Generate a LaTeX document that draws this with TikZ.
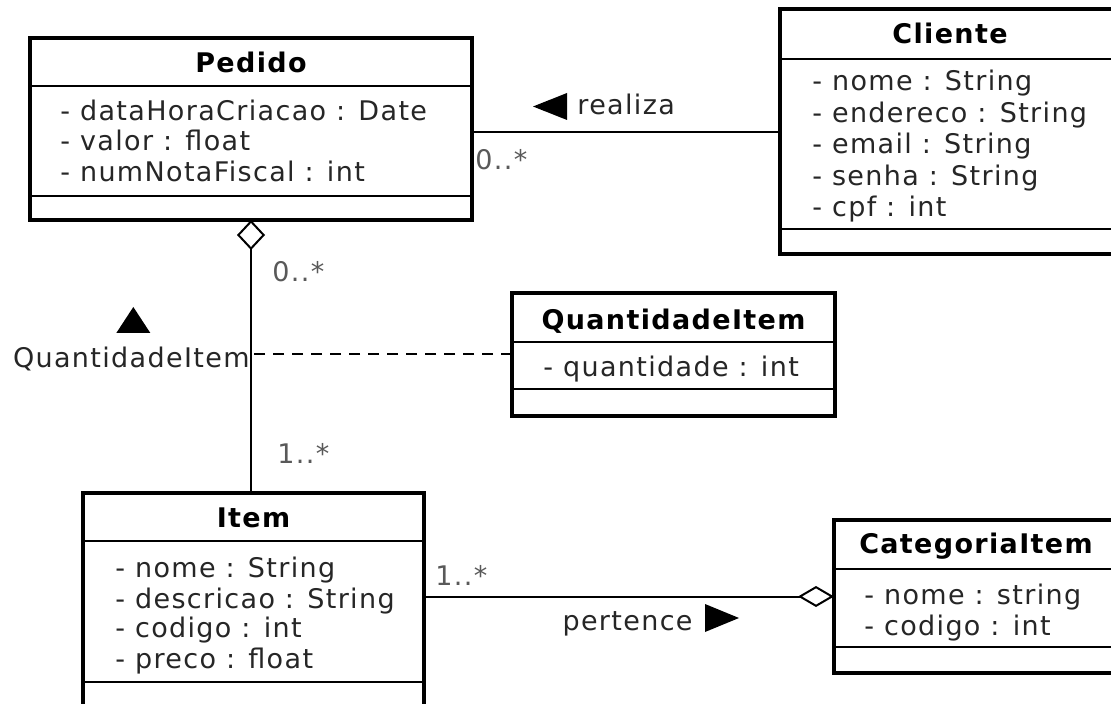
\documentclass[tikz,border=0pt]{standalone}
\usepackage{fontspec}
\setmainfont{DejaVu Sans}[LetterSpace=5]
\usetikzlibrary{arrows.meta}

\begin{document}
\begin{tikzpicture}[
    x=0.5pt, y=-0.5pt,
    every node/.style={font=\fontsize{13.5}{16}\selectfont, inner sep=0pt},
    umlbox/.style={rectangle, draw, line width=2.2pt, outer sep=0pt, anchor=north west},
    umltitle/.style={anchor=base, font=\fontsize{13.5}{16}\selectfont\bfseries},
    umlattr/.style={anchor=base west, text=black!85},
    mult/.style={anchor=base west, text=black!65},
    rolename/.style={text=black!85},
    sep/.style={line width=1pt},
    link/.style={line width=1pt},
    marker/.style={fill=black}
]
    \useasboundingbox (0,0) rectangle (1111,704);
    \clip (0,0) rectangle (1111,704);
    \fill[white] (0,0) rectangle (1111,704);

    % Pedido
    \node[umlbox, minimum width=221pt, minimum height=91pt] (pedido) at (30,38) {};
    \draw[sep] ([yshift=-24pt]pedido.north west) -- ([yshift=-24pt]pedido.north east);
    \draw[sep] ([yshift=-79pt]pedido.north west) -- ([yshift=-79pt]pedido.north east);
    \node[umltitle] (pedidotitle) at (251,73) {Pedido};
    \node[umlattr] (pedidodata) at (60,121) {- dataHoraCriacao : Date};
    \node[umlattr] (pedidovalor) at (60,151) {- valor : float};
    \node[umlattr] (pedidonota) at (60,182) {- numNotaFiscal : int};

    % Cliente
    \node[umlbox, minimum width=170pt, minimum height=122.5pt] (cliente) at (780,9) {};
    \draw[sep] ([yshift=-25pt]cliente.north west) -- ([yshift=-25pt]cliente.north east);
    \draw[sep] ([yshift=-110pt]cliente.north west) -- ([yshift=-110pt]cliente.north east);
    \node[umltitle] (clientetitle) at (950,44) {Cliente};
    \node[umlattr] (clientenome) at (812,91) {- nome : String};
    \node[umlattr] (clienteend) at (812,122.5) {- endereco : String};
    \node[umlattr] (clienteemail) at (812,154) {- email : String};
    \node[umlattr] (clientesenha) at (812,185.5) {- senha : String};
    \node[umlattr] (clientecpf) at (812,217) {- cpf : int};

    % QuantidadeItem
    \node[umlbox, minimum width=161.5pt, minimum height=61.5pt] (qtd) at (512,293) {};
    \draw[sep] ([yshift=-24.5pt]qtd.north west) -- ([yshift=-24.5pt]qtd.north east);
    \draw[sep] ([yshift=-48pt]qtd.north west) -- ([yshift=-48pt]qtd.north east);
    \node[umltitle] (qtdtitle) at (673.5,330) {QuantidadeItem};
    \node[umlattr] (qtdvalor) at (543,377) {- quantidade : int};

    % Item
    \node[umlbox, minimum width=170.5pt, minimum height=107.5pt] (item) at (83,493) {};
    \draw[sep] ([yshift=-24pt]item.north west) -- ([yshift=-24pt]item.north east);
    \draw[sep] ([yshift=-94.5pt]item.north west) -- ([yshift=-94.5pt]item.north east);
    \node[umltitle] (itemtitle) at (253.5,527) {Item};
    \node[umlattr] (itemnome) at (115,577) {- nome : String};
    \node[umlattr] (itemdesc) at (115,608) {- descricao : String};
    \node[umlattr] (itemcod) at (115,637) {- codigo : int};
    \node[umlattr] (itempreco) at (115,668) {- preco : float};

    % CategoriaItem
    \node[umlbox, minimum width=142pt, minimum height=76.5pt] (categoria) at (834,520) {};
    \draw[sep] ([yshift=-24.5pt]categoria.north west) -- ([yshift=-24.5pt]categoria.north east);
    \draw[sep] ([yshift=-63.5pt]categoria.north west) -- ([yshift=-63.5pt]categoria.north east);
    \node[umltitle] (categoriatitle) at (976,553) {CategoriaItem};
    \node[umlattr] (categorianome) at (864,604) {- nome : string};
    \node[umlattr] (categoriacod) at (864,635) {- codigo : int};

    % Connections
    \draw[link] ([yshift=-47pt]pedido.north east) -- ([yshift=-61.5pt]cliente.north west);
    \draw[link, {Diamond[open, length=15pt, width=14pt]}-] (pedido.south) -- (pedido.south |- item.north);
    \draw[link, dash pattern=on 5.5pt off 4pt] (qtd.west) -- (qtd.west -| pedido.south);
    \draw[link, -{Diamond[open, length=18pt, width=10.5pt]}] (item.east |- categoria.west) -- (categoria.west);

    % Multiplicities
    \node[mult] (multpedcli) at (475,170) {0..*};
    \node[mult] (multpedite) at (272,282) {0..*};
    \node[mult] (multiteped) at (277,464) {1..*};
    \node[mult] (multitecat) at (435,585) {1..*};

    % Association names
    \node[rolename, anchor=base west] (realiza) at (577,115) {realiza};
    \fill[marker] ([shift={(-5pt,11pt)}]realiza.base west) -- ([shift={(-5pt,-2.5pt)}]realiza.base west)
        -- ([shift={(-22pt,4.25pt)}]realiza.base west) -- cycle;
    \node[rolename, anchor=base east] (pertence) at (693,630) {pertence};
    \fill[marker] ([shift={(6pt,13pt)}]pertence.base east) -- ([shift={(6pt,-1pt)}]pertence.base east)
        -- ([shift={(23pt,6pt)}]pertence.base east) -- cycle;
    \node[rolename, anchor=base east] (qtdlabel) at (250,368) {QuantidadeItem};
    \fill[marker] ([shift={(-7.5pt,17.5pt)}]qtdlabel.base) -- ([shift={(9.5pt,17.5pt)}]qtdlabel.base)
        -- ([shift={(1pt,30.5pt)}]qtdlabel.base) -- cycle;
\end{tikzpicture}
\end{document}
